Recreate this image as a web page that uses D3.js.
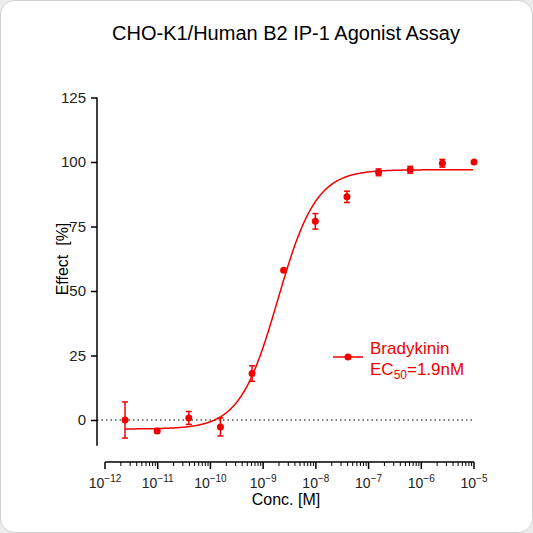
<!DOCTYPE html><html><head><script src="https://cdn.jsdelivr.net/npm/d3@7"></script>
<style>body{margin:0;background:#fff}svg{font-family:Arial,"Liberation Sans",sans-serif}</style></head><body><script>
const logConc=[-11.62,-11.01,-10.41,-9.81,-9.21,-8.61,-8.01,-7.41,-6.81,-6.21,-5.6,-5.0];
const effect=[0,-4.3,0.8,-2.7,18,58,77,86.5,96,97,99.5,100];
const errs=[7,0.6,2.5,3.5,3,0.5,3,2.2,1.3,1.3,1.5,0.5];
const yTicks=[0,25,50,75,100,125];
const xTicks=[-12,-11,-10,-9,-8,-7,-6,-5];
const fit={bottom:-3.5,top:97,logEC50:-8.72,hill:1.2};
const W=533,H=533,red="#f20000";
const svg=d3.select("body").append("svg").attr("width",W).attr("height",H);
svg.append("rect").attr("width",W).attr("height",H).attr("fill","#ececec");
svg.append("rect").attr("x",0.5).attr("y",0.5).attr("width",W-1).attr("height",H-1).attr("rx",14).attr("fill","#fff").attr("stroke","#d0d0d0");
const x=d3.scaleLinear().domain([-12,-5]).range([105,474]);
const y=d3.scaleLinear().domain([0,125]).range([420,97.5]);
svg.append("text").attr("x",286).attr("y",40).attr("text-anchor","middle").attr("font-size",20).text("CHO-K1/Human B2 IP-1 Agonist Assay");
const ya=svg.append("g").attr("transform","translate(97,0)").call(d3.axisLeft(y).tickValues(yTicks).tickSize(6).tickPadding(5));
ya.select(".domain").attr("d",`M0,${y(125)}V${y(-10)}`).attr("stroke-width",1.5);
ya.selectAll("line").attr("stroke-width",1.5);ya.selectAll("text").attr("font-size",15).attr("fill","#222");
const xa=svg.append("g").attr("transform","translate(0,462)");
xa.append("line").attr("x1",x(-12)).attr("x2",x(-5)).attr("stroke","#000").attr("stroke-width",1.5);
const minor=[];xTicks.slice(0,-1).forEach(t=>{for(let k=2;k<10;k++)minor.push(t+Math.log10(k));});
xa.selectAll(".mi").data(minor).join("line").attr("x1",d=>x(d)).attr("x2",d=>x(d)).attr("y2",4).attr("stroke","#000");
xa.selectAll(".ma").data(xTicks).join("line").attr("x1",d=>x(d)).attr("x2",d=>x(d)).attr("y2",7).attr("stroke","#000").attr("stroke-width",1.5);
const tl=xa.selectAll(".tl").data(xTicks).join("text").attr("x",d=>x(d)).attr("y",26).attr("text-anchor","middle").attr("font-size",14).attr("fill","#222");
tl.append("tspan").text("10");tl.append("tspan").attr("dy",-6).attr("font-size",10).text(d=>d<0?"\u2212"+(-d):d);
svg.append("text").attr("x",286).attr("y",505).attr("text-anchor","middle").attr("font-size",16).text("Conc. [M]");
svg.append("text").attr("transform","translate(68,259) rotate(-90)").attr("text-anchor","middle").attr("font-size",16).attr("xml:space","preserve").text("Effect  [%]");
svg.append("line").attr("x1",97).attr("x2",474).attr("y1",y(0)).attr("y2",y(0)).attr("stroke","#000").attr("stroke-dasharray","1.5,3");
const cx=d3.range(logConc[0],-5.0001,0.02);
const f=v=>fit.bottom+(fit.top-fit.bottom)/(1+Math.pow(10,(fit.logEC50-v)*fit.hill));
svg.append("path").attr("d",d3.line().x(d=>x(d)).y(d=>y(f(d)))(cx)).attr("fill","none").attr("stroke",red).attr("stroke-width",1.5);
const pts=svg.selectAll(".p").data(logConc).join("g");
pts.append("line").attr("x1",d=>x(d)).attr("x2",d=>x(d)).attr("y1",(d,i)=>y(effect[i]-errs[i])).attr("y2",(d,i)=>y(effect[i]+errs[i])).attr("stroke",red).attr("stroke-width",1.5);
[-1,1].forEach(s=>pts.append("line").attr("x1",d=>x(d)-3).attr("x2",d=>x(d)+3).attr("y1",(d,i)=>y(effect[i]+s*errs[i])).attr("y2",(d,i)=>y(effect[i]+s*errs[i])).attr("stroke",red).attr("stroke-width",1.5));
pts.append("circle").attr("cx",d=>x(d)).attr("cy",(d,i)=>y(effect[i])).attr("r",3.5).attr("fill",red);
svg.append("line").attr("x1",333).attr("x2",363).attr("y1",357).attr("y2",357).attr("stroke",red).attr("stroke-width",1.5);
svg.append("circle").attr("cx",348).attr("cy",357).attr("r",3.5).attr("fill",red);
svg.append("text").attr("x",370).attr("y",354).attr("font-size",17).attr("fill",red).text("Bradykinin");
const e=svg.append("text").attr("x",370).attr("y",375).attr("font-size",17).attr("fill",red);
e.append("tspan").text("EC");e.append("tspan").attr("font-size",12).attr("dy",4).text("50");e.append("tspan").attr("dy",-4).text("=1.9nM");
</script></body></html>
